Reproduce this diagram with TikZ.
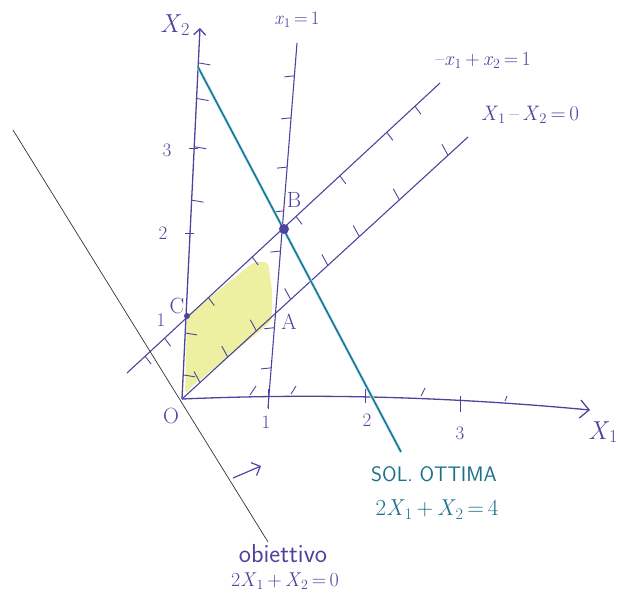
\documentclass[tikz,border=0pt]{standalone}
\usepackage{tikz}
\usetikzlibrary{arrows.meta, calc}

\definecolor{ink}{RGB}{78,68,158}
\definecolor{optblue}{RGB}{28,112,140}
\definecolor{feasyellow}{RGB}{236,240,160}

\newcommand{\xv}[1]{\textit{x}\textsubscript{#1}}
\newcommand{\Xv}[1]{\textit{X}\textsubscript{#1}}

\begin{document}
\begin{tikzpicture}[x=1pt, y=-1pt,
  axis/.style={ink, line width=1.3pt},
  vinc/.style={ink, line width=1.1pt},
  hatch/.style={ink, line width=0.9pt},
  opt/.style={optblue, line width=1.5pt, preaction={draw=cyan!30, line width=3pt}},
  obj/.style={black!80, line width=0.7pt},
  lab/.style={ink, font=\fontsize{20}{22}\selectfont},
  num/.style={ink, font=\fontsize{19}{21}\selectfont},
  pt/.style={ink, font=\fontsize{22}{24}\selectfont},
  optlab/.style={optblue, font=\fontsize{20}{22}\selectfont},
  dot/.style={circle, fill=ink, inner sep=0pt, minimum size=#1}]

\useasboundingbox (0,0) rectangle (618,603);

% vertici
\coordinate (O) at (182,399);
\coordinate (C) at (187,316);
\coordinate (B) at (284,229);
\coordinate (A) at (273,321);

% regione ammissibile
\fill[feasyellow, rounded corners=4pt] (185,395) -- (C) -- (254,262) -- (268,262)
  -- (272,290) -- (272,320) -- (266,326) -- (190,388) -- cycle;

% assi
\coordinate (x2top) at (200,28);
\coordinate (x1end) at (590,410);
\draw[axis, -{Straight Barb[length=6pt]}] (O) -- (x2top);
\draw[axis, -{Straight Barb[length=9pt]}] (O) .. controls (300,394) and (430,395) .. (x1end);

% tacche
\draw[hatch] (268,389) -- (268,409);
\draw[hatch] (365,389) -- (365,403);
\draw[hatch] (460,396) -- (460,412);
\draw[hatch] (185,233) -- (194,233);
\draw[hatch] (189,148) -- (198,148);
\foreach \ax/\ay/\bx/\by in {250/395/256/386, 291/394/296/386, 421/396/425/388, 505/401/507/396}
  \draw[hatch] (\ax,\ay) -- (\bx,\by);

% vincoli
\coordinate (v1a) at (297,43);
\coordinate (v1b) at (268,408);
\coordinate (v2a) at (127,373);
\coordinate (v2b) at (440,83);
\coordinate (v3b) at (468,137);
\draw[vinc] (v1a) -- (v1b);
\draw[vinc] (v2a) -- (v2b);
\draw[vinc] (O) -- (v3b);

% verso ammissibile
\foreach \t in {0.09,0.205,0.34,0.46,0.57,0.78,0.89}
  \draw[hatch] ($(v1a)!\t!(v1b)$) -- ++(-10,1);
\foreach \t in {0.906,0.81,0.68,0.536,0.178,0.065}
  \draw[hatch] ($(O)!\t!(x2top)$) -- ++(12,2);
\foreach \t in {0.058,0.12,0.26,0.4,0.54,0.68,0.83,0.92}
  \draw[hatch] ($(v2a)!\t!(v2b)$) -- ++(6,8);
\foreach \t in {0.063,0.16,0.26,0.38,0.51,0.62,0.76,0.93}
  \draw[hatch] ($(O)!\t!(v3b)$) -- ++(-6,-11);

% soluzione ottima e obiettivo
\coordinate (opta) at (198,67);
\coordinate (optb) at (401,452);
\draw[opt] (opta) -- (optb);
\coordinate (obja) at (13,130);
\coordinate (objb) at (268,542);
\draw[obj] (obja) -- (objb);
\coordinate (dira) at (233,478);
\coordinate (dirb) at (261,466);
\draw[ink, line width=1.2pt, -{Straight Barb[length=7pt]}] (dira) -- (dirb);

% punti
\node[dot=10pt] (pB) at (B) {};
\node[dot=6pt] (pC) at (C) {};

% etichette
\node[lab, font=\fontsize{26}{28}\selectfont] (lx2) at (175,25) {\Xv{2}};
\node[lab, font=\fontsize{26}{28}\selectfont] (lx1) at (603,432) {\Xv{1}};
\node[lab, font=\fontsize{19}{21}\selectfont] (lv1) at (297,20) {\xv{1}\,=\,1};
\node[lab] (lv2) at (483,60) {–\xv{1}\,+\,\xv{2}\,=\,1};
\node[lab, font=\fontsize{21}{23}\selectfont] (lv3) at (530,115) {\Xv{1}\,–\,\Xv{2}\,=\,0};
\node[pt] (lB) at (294,200) {B};
\node[pt] (lC) at (177,306) {C};
\node[pt] (lA) at (289,322) {A};
\node[pt] (lO) at (171,416) {O};
\node[num] (n1y) at (161,320) {1};
\node[num] (n2y) at (163,233) {2};
\node[num] (n3y) at (167,150) {3};
\node[num] (n1x) at (266,422) {1};
\node[num] (n2x) at (367,420) {2};
\node[num] (n3x) at (460,433) {3};
\node[optlab, font=\sffamily\fontsize{21}{23}\selectfont] (lsol) at (434,474) {SOL.\ OTTIMA};
\node[optlab, font=\fontsize{23}{25}\selectfont] (lsolf) at (437,510) {2\Xv{1}\,+\,\Xv{2}\,=\,4};
\node[lab, font=\sffamily\fontsize{26}{28}\selectfont] (lobj) at (283,554) {obiettivo};
\node[lab] (lobjf) at (285,581) {2\Xv{1}\,+\,\Xv{2}\,=\,0};
\end{tikzpicture}
\end{document}
